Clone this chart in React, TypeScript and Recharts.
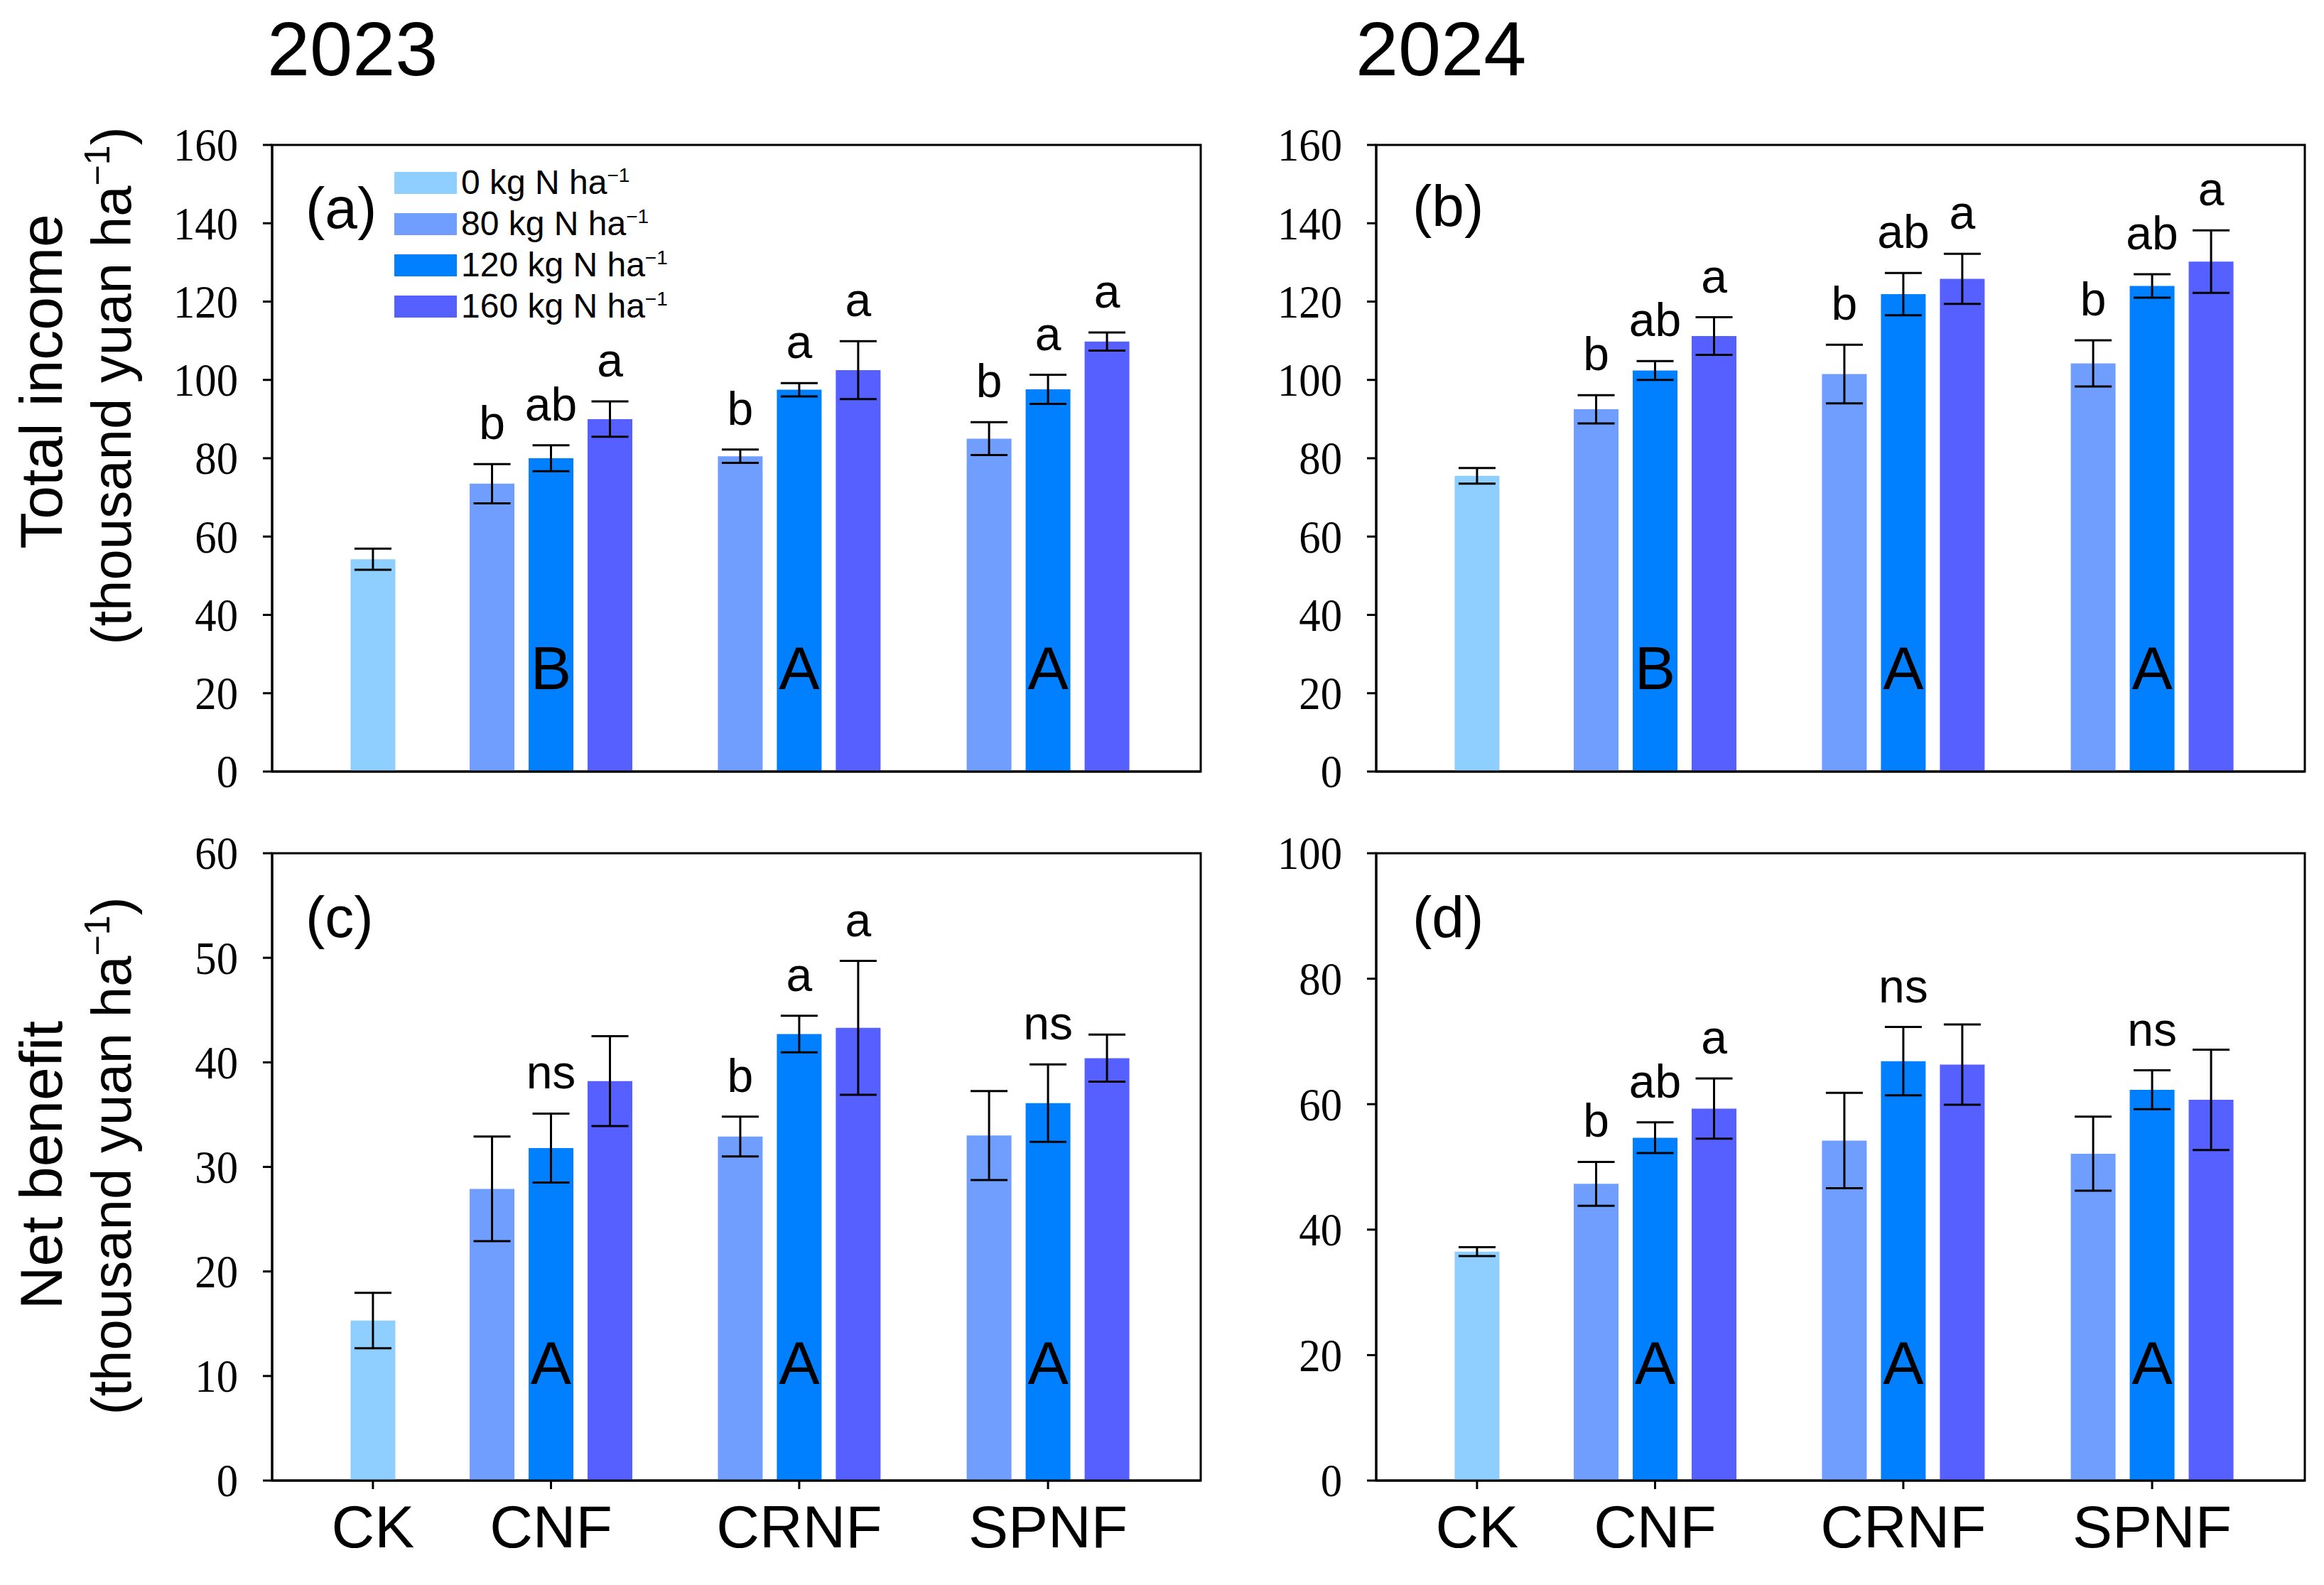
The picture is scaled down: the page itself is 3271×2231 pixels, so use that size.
import React from "react";
import { BarChart, Bar, XAxis, YAxis, ErrorBar, Cell, LabelList, ReferenceArea, Legend } from "recharts";

// treatments and N rates
const treatments = ["CK", "CNF", "CRNF", "SPNF"];
const nRates = [0, 80, 120, 160];
const rateLabels = ["0 kg N ha", "80 kg N ha", "120 kg N ha", "160 kg N ha"];
// bars in drawing order
const barTreatment = ["CK", "CNF", "CNF", "CNF", "CRNF", "CRNF", "CRNF", "SPNF", "SPNF", "SPNF"];
const barRate = [0, 80, 120, 160, 80, 120, 160, 80, 120, 160];

// (a) total income 2023
const income2023 = [54.2, 73.5, 80.0, 90.0, 80.5, 97.5, 102.5, 85.0, 97.6, 109.8];
const income2023Err = [2.7, 5.0, 3.3, 4.5, 1.7, 1.7, 7.4, 4.2, 3.7, 2.3];
const income2023Letters = ["", "b", "ab", "a", "b", "a", "a", "b", "a", "a"];
const income2023Groups = ["", "B", "A", "A"];

// (b) total income 2024
const income2024 = [75.5, 92.5, 102.4, 111.2, 101.5, 121.9, 125.8, 104.2, 124.0, 130.2];
const income2024Err = [2.0, 3.6, 2.4, 4.8, 7.5, 5.4, 6.4, 5.9, 3.0, 8.0];
const income2024Letters = ["", "b", "ab", "a", "b", "ab", "a", "b", "ab", "a"];
const income2024Groups = ["", "B", "A", "A"];

// (c) net benefit 2023
const net2023 = [15.3, 27.9, 31.8, 38.2, 32.9, 42.7, 43.3, 33.0, 36.1, 40.4];
const net2023Err = [2.65, 5.0, 3.3, 4.3, 1.9, 1.75, 6.4, 4.25, 3.7, 2.25];
const net2023Letters = ["", "", "ns", "", "b", "a", "a", "", "ns", ""];
const net2023Groups = ["", "A", "A", "A"];

// (d) net benefit 2024
const net2024 = [36.5, 47.3, 54.65, 59.3, 54.2, 66.85, 66.3, 52.1, 62.3, 60.7];
const net2024Err = [0.7, 3.5, 2.45, 4.8, 7.6, 5.45, 6.4, 5.9, 3.1, 8.0];
const net2024Letters = ["", "b", "ab", "a", "", "ns", "", "", "ns", ""];
const net2024Groups = ["", "A", "A", "A"];

const incomeTicks = [0, 20, 40, 60, 80, 100, 120, 140, 160];
const net2023Ticks = [0, 10, 20, 30, 40, 50, 60];
const net2024Ticks = [0, 20, 40, 60, 80, 100];

const rateColors: Record<number, string> = {
  0: "#8ECFFF",
  80: "#709EFF",
  120: "#0080FF",
  160: "#5560FF",
};

// layout
const SANS = "Liberation Sans, Arial, sans-serif";
const SERIF = "Liberation Serif, Tinos, DejaVu Serif, Noto Serif, FreeSerif, serif";
const X_MAX = 15.75;
const groupCenter: Record<string, number> = { CK: 1.71, CNF: 4.73, CRNF: 8.94, SPNF: 13.16 };
const rateOffset: Record<number, number> = { 0: 0, 80: -1, 120: 0, 160: 1 };
const tickCenters = treatments.map((t) => groupCenter[t]);
const PLOT_W = 1307;
const Y_AXIS_W = 190;
const MARGIN = { top: 40, right: 20, left: 0, bottom: 0 };

const LegendBox = () => (
  <svg width={500} height={260} style={{ overflow: "visible" }}>
    {nRates.map((r, i) => (
      <g key={r}>
        <rect x={0} y={8 + i * 58} width={88} height={31} fill={rateColors[r]} />
        <text x={94} y={39 + i * 58} fontFamily={SANS} fontSize={48} fill="#000">
          {rateLabels[i]}
          <tspan dy={-17} fontSize={28}>−1</tspan>
        </text>
      </g>
    ))}
  </svg>
);

// y tick labels in a serif face, slightly condensed like the original
const YTick = (props: any) => {
  const { x, y, payload } = props;
  return (
    <g transform={`translate(${x},${y}) scale(0.92,1)`}>
      <text x={0} y={0} dy="0.34em" textAnchor="end" fontSize={66} fill="#000"
        fontFamily={SERIF} style={{ fontFamily: SERIF }}>
        {payload.value}
      </text>
    </g>
  );
};

type PanelProps = {
  values: number[];
  errors: number[];
  letters: string[];
  groups: string[];
  ticks: number[];
  plotH: number;
  showX: boolean;
  groupLift: number;
  legend?: boolean;
};

function Panel({ values, errors, letters, groups, ticks, plotH, showX, groupLift, legend }: PanelProps) {
  const rows = barTreatment.map((t, i) => ({
    x: groupCenter[t] + rateOffset[barRate[i]],
    value: values[i],
    err: errors[i],
    rate: barRate[i],
    letter: letters[i],
    group: barRate[i] === 120 ? groups[treatments.indexOf(t)] : "",
  }));
  const yMax = ticks[ticks.length - 1];
  const xAxisH = showX ? 140 : 60;
  const width = Y_AXIS_W + PLOT_W + MARGIN.right;
  const height = MARGIN.top + plotH + xAxisH;

  const renderLetter = (props: any) => {
    const vb = props.viewBox ?? props;
    const row = rows[props.index];
    if (!row || !row.letter) return null;
    const top = vb.y - row.err * (vb.height / row.value);
    return (
      <text x={vb.x + vb.width / 2} y={top - 35} textAnchor="middle" fontFamily={SANS} fontSize={66} fill="#000">
        {row.letter}
      </text>
    );
  };
  const renderGroup = (props: any) => {
    const vb = props.viewBox ?? props;
    const row = rows[props.index];
    if (!row || !row.group) return null;
    return (
      <text x={vb.x + vb.width / 2} y={vb.y + vb.height - groupLift} textAnchor="middle" fontFamily={SANS} fontSize={86} fill="#000">
        {row.group}
      </text>
    );
  };

  return (
    <BarChart width={width} height={height} data={rows} margin={MARGIN}>
      <XAxis
        type="number"
        dataKey="x"
        domain={[0, X_MAX]}
        allowDataOverflow
        ticks={tickCenters}
        interval={0}
        tickFormatter={(v: number) => treatments[tickCenters.indexOf(v)]}
        height={xAxisH}
        axisLine={{ stroke: "#000", strokeWidth: 3 }}
        tickLine={showX ? { stroke: "#000", strokeWidth: 3 } : false}
        tick={showX ? { fontFamily: SANS, fontSize: 84, fill: "#000" } : false}
        tickSize={12}
        tickMargin={22}
      />
      <YAxis
        type="number"
        domain={[0, yMax]}
        allowDataOverflow
        ticks={ticks}
        interval={0}
        width={Y_AXIS_W}
        axisLine={{ stroke: "#000", strokeWidth: 3 }}
        tickLine={{ stroke: "#000", strokeWidth: 3 }}
        tick={<YTick />}
        tickSize={13}
        tickMargin={35}
      />
      <Bar dataKey="value" barSize={63} isAnimationActive={false}>
        {rows.map((r, i) => (
          <Cell key={i} fill={rateColors[r.rate]} />
        ))}
        <ErrorBar dataKey="err" direction="y" width={26} stroke="#000" strokeWidth={3} isAnimationActive={false} />
        <LabelList dataKey="letter" content={renderLetter} />
        <LabelList dataKey="group" content={renderGroup} />
      </Bar>
      <ReferenceArea x1={0} x2={X_MAX} y1={0} y2={yMax} fill="none" stroke="#000" strokeWidth={3} ifOverflow="visible" />
      {legend && (
        <Legend
          layout="vertical"
          align="center"
          verticalAlign="middle"
          wrapperStyle={{ left: 362, top: 70, width: 500, height: 260 }}
          content={() => <LegendBox />}
        />
      )}
    </BarChart>
  );
}

export default function App() {
  return (
    <div style={{ position: "absolute", left: 0, top: 0, width: 3271, height: 2231, background: "#fff" }}>
      <div style={{ position: "absolute", left: 193, top: 164 }}>
        <Panel values={income2023} errors={income2023Err} letters={income2023Letters} groups={income2023Groups}
          ticks={incomeTicks} plotH={882} showX={false} groupLift={116} legend />
      </div>
      <div style={{ position: "absolute", left: 1747, top: 164 }}>
        <Panel values={income2024} errors={income2024Err} letters={income2024Letters} groups={income2024Groups}
          ticks={incomeTicks} plotH={882} showX={false} groupLift={116} />
      </div>
      <div style={{ position: "absolute", left: 193, top: 1161 }}>
        <Panel values={net2023} errors={net2023Err} letters={net2023Letters} groups={net2023Groups}
          ticks={net2023Ticks} plotH={883} showX groupLift={136} />
      </div>
      <div style={{ position: "absolute", left: 1747, top: 1161 }}>
        <Panel values={net2024} errors={net2024Err} letters={net2024Letters} groups={net2024Groups}
          ticks={net2024Ticks} plotH={883} showX groupLift={136} />
      </div>
      <svg width={3271} height={2231} style={{ position: "absolute", left: 0, top: 0, pointerEvents: "none" }}>
        <g fontFamily={SANS} fill="#000">
          <text x={376} y={106} fontSize={108}>2023</text>
          <text x={1908} y={106} fontSize={108}>2024</text>
          <text transform="translate(87,537) rotate(-90)" textAnchor="middle" fontSize={84}>Total income</text>
          <text transform="translate(184,543) rotate(-90)" textAnchor="middle" fontSize={78}>
            (thousand yuan ha<tspan dy={-30} fontSize={50}>−1</tspan><tspan dy={30}>)</tspan>
          </text>
          <text transform="translate(87,1640) rotate(-90)" textAnchor="middle" fontSize={84}>Net benefit</text>
          <text transform="translate(184,1627) rotate(-90)" textAnchor="middle" fontSize={78}>
            (thousand yuan ha<tspan dy={-30} fontSize={50}>−1</tspan><tspan dy={30}>)</tspan>
          </text>
          <text x={430} y={321} fontSize={82}>(a)</text>
          <text x={1988} y={318} fontSize={82}>(b)</text>
          <text x={430} y={1319} fontSize={82}>(c)</text>
          <text x={1988} y={1319} fontSize={82}>(d)</text>
        </g>
      </svg>
    </div>
  );
}
